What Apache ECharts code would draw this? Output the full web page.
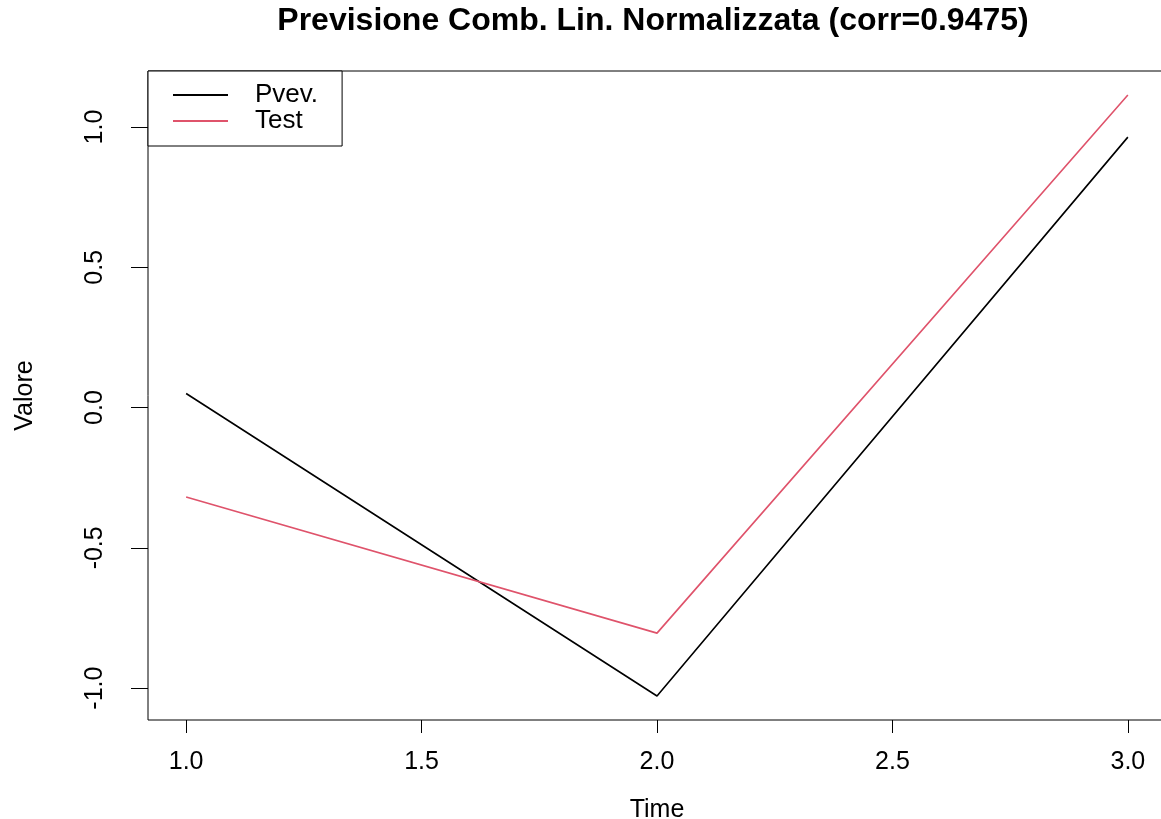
<!DOCTYPE html>
<html>
<head>
<meta charset="utf-8">
<script src="https://cdn.jsdelivr.net/npm/echarts@6/dist/echarts.min.js"></script>
<style>
html,body{margin:0;padding:0;background:#fff;}
#chart{width:1161px;height:819px;}
</style>
</head>
<body>
<div id="chart"></div>
<script>
const time = [1, 2, 3];
const pvev = [0.05, -1.028, 0.964];
const test = [-0.319, -0.804, 1.114];
const xTicks = [1.0, 1.5, 2.0, 2.5, 3.0];
const yTicks = [-1.0, -0.5, 0.0, 0.5, 1.0];
const titleText = 'Previsione Comb. Lin. Normalizzata (corr=0.9475)';

const FONT = '"Liberation Sans", Arial, Helvetica, sans-serif';
const chart = echarts.init(document.getElementById('chart'));
const pairs = (ys) => time.map((t, i) => [t, ys[i]]);

chart.setOption({
  animation: false,
  backgroundColor: '#ffffff',
  title: {
    text: titleText,
    left: 653,
    textAlign: 'center',
    top: 5,
    padding: 0,
    textStyle: { fontFamily: FONT, fontWeight: 'bold', fontSize: 32, color: '#000' }
  },
  legend: {
    orient: 'vertical',
    left: 148,
    top: 71,
    padding: [11, 24, 12, 25],
    itemGap: 0,
    itemWidth: 55,
    itemHeight: 2,
    icon: 'rect',
    borderColor: '#000',
    borderWidth: 1,
    backgroundColor: '#fff',
    textStyle: { fontFamily: FONT, fontSize: 26, color: '#000', lineHeight: 26, padding: [0, 0, 0, 22] },
    data: ['Pvev.', 'Test']
  },
  grid: {
    show: true,
    left: 148,
    top: 71,
    width: 1018,
    height: 649,
    borderColor: '#000',
    borderWidth: 1,
    backgroundColor: 'transparent',
    containLabel: false,
    outerBoundsMode: 'none'
  },
  xAxis: {
    type: 'value',
    min: 0.919,
    max: 3.081,
    name: 'Time',
    nameLocation: 'middle',
    nameGap: 78,
    nameTextStyle: { fontFamily: FONT, fontSize: 25, color: '#000' },
    axisLine: { show: false, onZero: false },
    splitLine: { show: false },
    axisTick: { show: true, customValues: xTicks, length: 13, lineStyle: { color: '#000', width: 1 } },
    axisLabel: {
      customValues: xTicks,
      margin: 30,
      fontFamily: FONT, fontSize: 25, color: '#000',
      formatter: (v) => Number(v).toFixed(1)
    }
  },
  yAxis: {
    type: 'value',
    min: -1.1137,
    max: 1.1997,
    name: 'Valore',
    nameLocation: 'middle',
    nameRotate: 90,
    nameGap: 110,
    nameTextStyle: { fontFamily: FONT, fontSize: 25, color: '#000' },
    axisLine: { show: false, onZero: false },
    splitLine: { show: false },
    axisTick: { show: true, customValues: yTicks, length: 17, lineStyle: { color: '#000', width: 1 } },
    axisLabel: {
      customValues: yTicks,
      rotate: 90,
      margin: 40,
      fontFamily: FONT, fontSize: 25, color: '#000',
      formatter: (v) => Number(v).toFixed(1)
    }
  },
  series: [
    {
      name: 'Pvev.',
      type: 'line',
      data: pairs(pvev),
      symbol: 'none',
      showSymbol: false,
      color: '#000000',
      lineStyle: { color: '#000000', width: 1.6 }
    },
    {
      name: 'Test',
      type: 'line',
      data: pairs(test),
      symbol: 'none',
      showSymbol: false,
      color: '#DF536B',
      lineStyle: { color: '#DF536B', width: 1.6 }
    }
  ]
});
</script>
</body>
</html>
